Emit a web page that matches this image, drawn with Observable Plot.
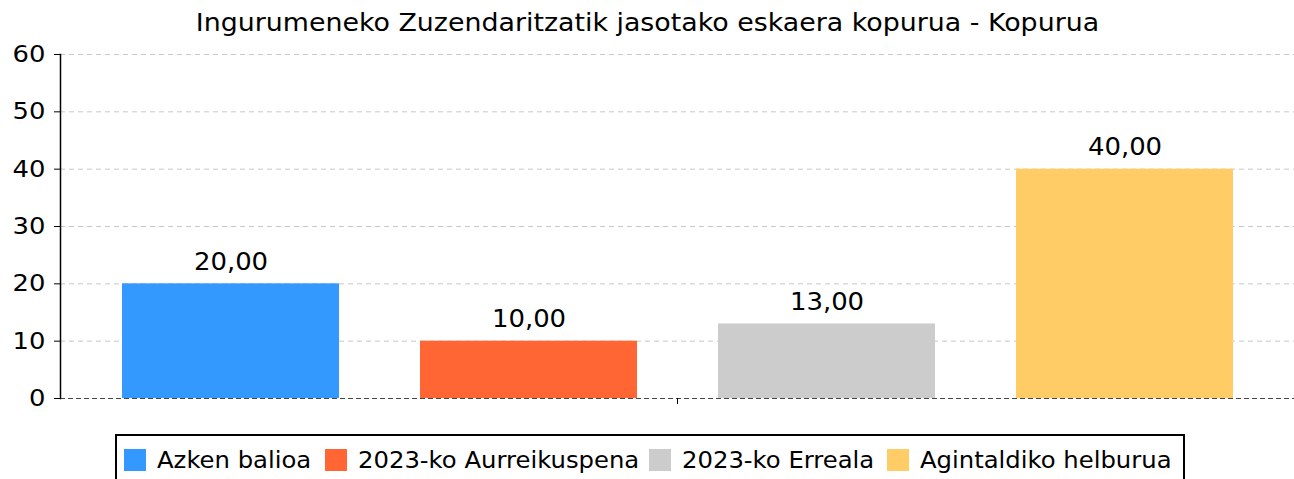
<!DOCTYPE html>
<html>
<head>
<meta charset="utf-8">
<script src="https://cdn.jsdelivr.net/npm/d3@7"></script>
<script src="https://cdn.jsdelivr.net/npm/@observablehq/plot@0.6"></script>
<style>
  html, body { margin: 0; padding: 0; background: #fff; }
  body { width: 1294px; height: 479px; overflow: hidden; position: relative; font-family: "DejaVu Sans", sans-serif; color: #000; }
  #title { position: absolute; left: 0; top: 0; width: 1294px; height: 40px; text-align: center; font-size: 24.5px; line-height: 46px; white-space: nowrap; }
  #chart { position: absolute; left: 0; top: 40px; }
  #legend { position: absolute; left: 115px; top: 434px; width: 1066px; height: 60px; border: 2px solid #000; box-sizing: content-box; }
  #legend .row { display: flex; align-items: center; padding-left: 7px; margin-top: 11px; }
  #legend .sw { width: 22px; height: 22px; margin-right: 11px; flex: none; }
  #legend .lab { font-size: 22.5px; margin-right: 18.5px; white-space: nowrap; }
</style>
</head>
<body>
<div id="title">Ingurumeneko Zuzendaritzatik jasotako eskaera kopurua - Kopurua</div>
<div id="chart"></div>
<div id="legend"><div class="row"></div></div>
<script>
const category = "Kopurua";
const series = ["Azken balioa", "2023-ko Aurreikuspena", "2023-ko Erreala", "Agintaldiko helburua"];
const values = [20, 10, 13, 40];
const colors = ["#3399ff", "#ff6633", "#cccccc", "#ffcc66"];
const yTicks = [0, 10, 20, 30, 40, 50, 60];

const data = series.map((s, i) => ({cat: category, series: s, value: values[i]}));
const fmt = v => v.toFixed(2).replace(".", ",");

const plot = Plot.plot({
  width: 1294,
  height: 380,
  marginTop: 14,
  marginBottom: 22,
  marginLeft: 60,
  marginRight: 0,
  style: {fontFamily: "DejaVu Sans, sans-serif", color: "#000", background: "transparent"},
  fx: {domain: [category], padding: 0, label: null},
  x: {domain: series, paddingInner: 0.2725, paddingOuter: 0.205, axis: null},
  y: {domain: [0, 60], label: null},
  color: {domain: series, range: colors},
  marks: [
    Plot.ruleY(yTicks.filter(t => t > 0), {stroke: "#c8c8c8", strokeDasharray: "5,4", strokeWidth: 1}),
    Plot.barY(data, {fx: "cat", x: "series", y: "value", fill: "series"}),
    Plot.ruleY([0], {stroke: "#444", strokeDasharray: "5,3", strokeWidth: 1}),
    Plot.frame({anchor: "left", stroke: "#000", strokeWidth: 1.5}),
    Plot.text(data, {fx: "cat", x: "series", y: "value", text: d => fmt(d.value), lineAnchor: "bottom", dy: -14, fontSize: 24, fill: "#000"}),
    Plot.axisY({ticks: yTicks, tickSize: 6, tickPadding: 9, fontSize: 23.5, label: null, stroke: "#000"}),
    Plot.axisFx({anchor: "bottom", tickSize: 6, tickFormat: () => "", label: null})
  ]
});
document.getElementById("chart").appendChild(plot);

// slight horizontal stretch of glyphs, as in the reference picture
function stretchSvgText(sel, k) {
  plot.querySelectorAll(sel).forEach(t => {
    if (!t.textContent) return;
    const w = t.getComputedTextLength();
    t.setAttribute("textLength", w * k);
    t.setAttribute("lengthAdjust", "spacingAndGlyphs");
  });
}
stretchSvgText('g[aria-label="y-axis tick label"] text', 1.1);
stretchSvgText('g[aria-label="text"] text', 1.08);

function stretchHtml(el, k) {
  el.style.display = "inline-block";
  const w = el.getBoundingClientRect().width;
  el.style.width = (w * k) + "px";
  el.style.transform = `scaleX(${k})`;
  el.style.transformOrigin = "left center";
}

const titleEl = document.getElementById("title");
const ts = document.createElement("span");
ts.textContent = titleEl.textContent;
titleEl.textContent = "";
titleEl.appendChild(ts);
ts.style.display = "inline-block";
ts.style.transform = "scaleX(1.095)";
ts.style.transformOrigin = "center center";

const row = document.querySelector("#legend .row");
series.forEach((s, i) => {
  const sw = document.createElement("span");
  sw.className = "sw";
  sw.style.background = colors[i];
  const lab = document.createElement("span");
  lab.className = "lab";
  lab.textContent = s;
  row.appendChild(sw);
  row.appendChild(lab);
  stretchHtml(lab, 1.08);
});
</script>
</body>
</html>
